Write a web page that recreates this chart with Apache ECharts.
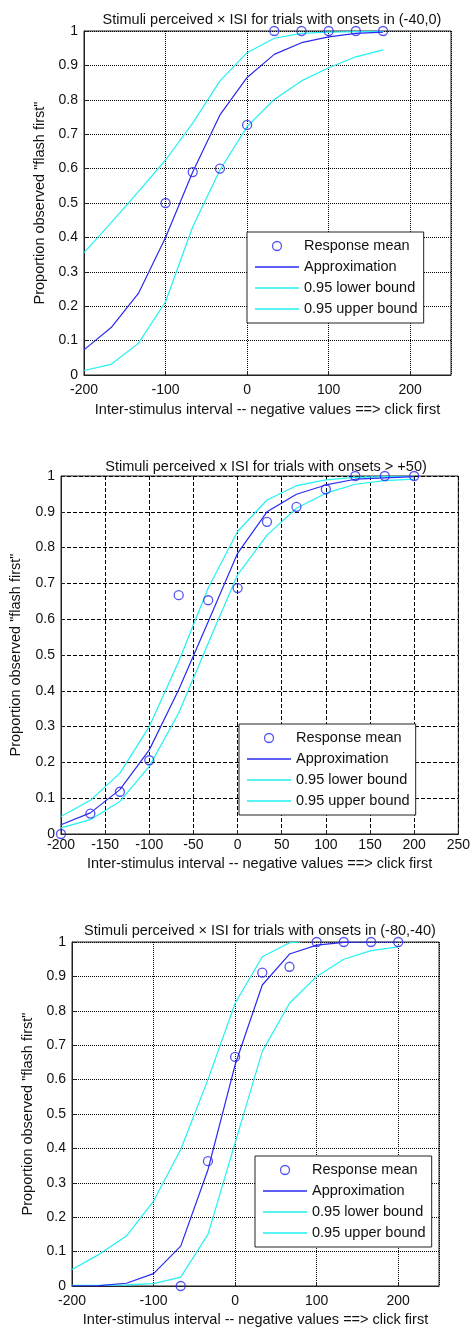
<!DOCTYPE html>
<html>
<head>
<meta charset="utf-8">
<script src="https://cdn.jsdelivr.net/npm/echarts@6/dist/echarts.min.js"></script>
<style>
  html, body { margin: 0; padding: 0; background: #fff; }
  #chart { width: 473px; height: 1328px; }
</style>
</head>
<body>
<div id="chart"></div>
<script>
// panel titles
const titles = [
  'Stimuli perceived \u00d7 ISI for trials with onsets in (-40,0)',
  'Stimuli perceived x ISI for trials with onsets > +50)',
  'Stimuli perceived \u00d7 ISI for trials with onsets in (-80,-40)'
];
const legendNames = ['Response mean', 'Approximation', '0.95 lower bound', '0.95 upper bound'];

// panel 1 : onsets in (-40,0)
const p1CurveX = [-200, -166.7, -133.3, -100, -66.7, -33.3, 0, 33.3, 66.7, 100, 133.3, 166.7];
const p1Approx = [0.073, 0.138, 0.237, 0.40, 0.59, 0.756, 0.865, 0.932, 0.966, 0.983, 0.993, 0.997];
const p1Lower = [0.356, 0.443, 0.533, 0.625, 0.732, 0.855, 0.937, 0.979, 0.993, 0.997, 0.998, 0.999];
const p1Upper = [0.013, 0.031, 0.092, 0.213, 0.431, 0.596, 0.722, 0.801, 0.855, 0.893, 0.925, 0.945];
const p1PointX = [-100, -66.7, -33.3, 0, 33.3, 66.7, 100, 133.3, 166.7];
const p1Mean = [0.5, 0.59, 0.6, 0.727, 1, 1, 1, 1, 1];

// panel 2 : onsets > +50
const p2CurveX = [-200, -166.7, -133.3, -100, -66.7, -33.3, 0, 33.3, 66.7, 100, 133.3, 166.7, 200];
const p2Approx = [0.026, 0.059, 0.124, 0.235, 0.403, 0.593, 0.784, 0.90, 0.949, 0.975, 0.991, 0.995, 0.998];
const p2Lower = [0.049, 0.094, 0.170, 0.30, 0.482, 0.687, 0.845, 0.933, 0.973, 0.989, 0.996, 0.998, 0.999];
const p2Upper = [0.017, 0.040, 0.091, 0.189, 0.338, 0.533, 0.724, 0.835, 0.91, 0.952, 0.977, 0.987, 0.991];
const p2PointX = [-200, -166.7, -133.3, -100, -66.7, -33.3, 0, 33.3, 66.7, 100, 133.3, 166.7, 200];
const p2Mean = [0, 0.057, 0.118, 0.206, 0.667, 0.653, 0.687, 0.872, 0.914, 0.963, 1, 1, 1];

// panel 3 : onsets in (-80,-40)
const p3CurveX = [-200, -166.7, -133.3, -100, -66.7, -33.3, 0, 33.3, 66.7, 100, 133.3, 166.7, 200];
const p3Approx = [0.0005, 0.001, 0.008, 0.036, 0.116, 0.338, 0.643, 0.875, 0.965, 0.991, 0.999, 1, 1];
const p3LowerX = [-200, -166.7, -133.3, -100, -66.7, -33.3, 0, 33.3, 66.7, 80];
const p3Lower = [0.048, 0.092, 0.145, 0.247, 0.397, 0.60, 0.822, 0.957, 0.998, 1];
const p3Upper = [0.002, 0.002, 0.003, 0.007, 0.026, 0.15, 0.416, 0.682, 0.822, 0.90, 0.95, 0.975, 0.986];
const p3PointX = [-66.7, -33.3, 0, 33.3, 66.7, 100, 133.3, 166.7, 200];
const p3Mean = [0, 0.363, 0.666, 0.911, 0.928, 1, 1, 1, 1];

const panels = [
  { grid: { left: 84, top: 31, width: 367, height: 344 }, titleX: 267, titleY: 7, interval: 100, grid2: 'dotted',
    xNameGap: 27, yNameGap: 36, labelMargin: 8, legend: { left: 247, top: 232 },
    approxX: p1CurveX, approx: p1Approx, lowerX: p1CurveX, lower: p1Lower, upperX: p1CurveX, upper: p1Upper,
    px: p1PointX, py: p1Mean, hideMax: true },
  { grid: { left: 60, top: 476, width: 402, height: 358 }, titleX: 261, titleY: 454, interval: 50, grid2: 'dashed',
    xNameGap: 22, yNameGap: 38, labelMargin: 4, legend: { left: 239, top: 724 },
    approxX: p2CurveX, approx: p2Approx, lowerX: p2CurveX, lower: p2Lower, upperX: p2CurveX, upper: p2Upper,
    px: p2PointX, py: p2Mean, hideMax: false },
  { grid: { left: 72, top: 942, width: 367, height: 345 }, titleX: 255, titleY: 918, interval: 100, grid2: 'dotted',
    xNameGap: 26, yNameGap: 36, labelMargin: 8, legend: { left: 255, top: 1156 },
    approxX: p3CurveX, approx: p3Approx, lowerX: p3LowerX, lower: p3Lower, upperX: p3CurveX, upper: p3Upper,
    px: p3PointX, py: p3Mean, hideMax: true }
];

const font = 'Liberation Sans, Arial, sans-serif';
const blue = '#2a2af2';
const cyan = '#22f2f2';
const lineIcon = 'path://M0,0L44,0L44,1.4L0,1.4Z';
const pairs = (xs, ys) => xs.map((x, i) => [x, ys[i]]);

let option = {
  backgroundColor: '#fff',
  animation: false,
  title: [], grid: [], xAxis: [], yAxis: [], legend: [], series: []
};

panels.forEach((p, i) => {
  option.title.push({
    text: titles[i], left: p.titleX, top: p.titleY, textAlign: 'center',
    textStyle: { fontFamily: font, fontSize: 14.5, fontWeight: 'normal', color: '#111' }
  });
  option.grid.push(Object.assign({ show: true, borderColor: '#222', borderWidth: 1, backgroundColor: '#fff' }, p.grid));
  option.xAxis.push({
    gridIndex: i, type: 'value', min: -200, max: 250, interval: p.interval,
    name: 'Inter-stimulus interval -- negative values ==> click first',
    nameLocation: 'middle', nameGap: p.xNameGap,
    nameTextStyle: { fontFamily: font, fontSize: 14.5, color: '#111' },
    axisLine: { show: true, onZero: false, lineStyle: { color: '#222' } },
    axisTick: { show: true, inside: true, length: 4, lineStyle: { color: '#222' } },
    axisLabel: { fontFamily: font, fontSize: 14, color: '#111', margin: p.labelMargin, showMaxLabel: !p.hideMax },
    splitLine: { show: true, lineStyle: { color: '#000', type: p.grid2, width: 1 } }
  });
  option.yAxis.push({
    gridIndex: i, type: 'value', min: 0, max: 1, interval: 0.1,
    name: 'Proportion observed "flash first"',
    nameLocation: 'middle', nameGap: p.yNameGap, nameRotate: 90,
    nameTextStyle: { fontFamily: font, fontSize: 14.5, color: '#111' },
    axisLine: { show: true, onZero: false, lineStyle: { color: '#222' } },
    axisTick: { show: true, inside: true, length: 4, lineStyle: { color: '#222' } },
    axisLabel: { fontFamily: font, fontSize: 14, color: '#111', margin: 6,
      formatter: v => (Math.round(v * 10) / 10).toString() },
    splitLine: { show: true, lineStyle: { color: '#000', type: p.grid2, width: 1 } }
  });
  option.legend.push({
    left: p.legend.left, top: p.legend.top,
    orient: 'vertical', backgroundColor: '#fff', borderColor: '#222', borderWidth: 1,
    padding: [6, 6, 6, 8], itemGap: 5, itemWidth: 44, itemHeight: 9,
    textStyle: { fontFamily: font, fontSize: 14.5, color: '#111', lineHeight: 16 },
    data: [
      { name: legendNames[0], icon: 'circle', itemStyle: { color: 'rgba(0,0,0,0)', borderColor: blue, borderWidth: 1.3 } },
      { name: legendNames[1], icon: lineIcon },
      { name: legendNames[2], icon: lineIcon },
      { name: legendNames[3], icon: lineIcon }
    ],
    selectedMode: false
  });
  const lineSeries = (name, xs, ys, color) => ({
    name, type: 'line', xAxisIndex: i, yAxisIndex: i, data: pairs(xs, ys),
    symbol: 'none', lineStyle: { color, width: 1.2 }, itemStyle: { color }, z: 3
  });
  option.series.push(lineSeries(legendNames[2], p.lowerX, p.lower, cyan));
  option.series.push(lineSeries(legendNames[3], p.upperX, p.upper, cyan));
  option.series.push(lineSeries(legendNames[1], p.approxX, p.approx, blue));
  option.series.push({
    name: legendNames[0], type: 'scatter', xAxisIndex: i, yAxisIndex: i, data: pairs(p.px, p.py),
    symbol: 'circle', symbolSize: 9,
    itemStyle: { color: 'rgba(0,0,0,0)', borderColor: blue, borderWidth: 1.3 }, z: 5
  });
});

const chart = echarts.init(document.getElementById('chart'));
chart.setOption(option);
</script>
</body>
</html>
